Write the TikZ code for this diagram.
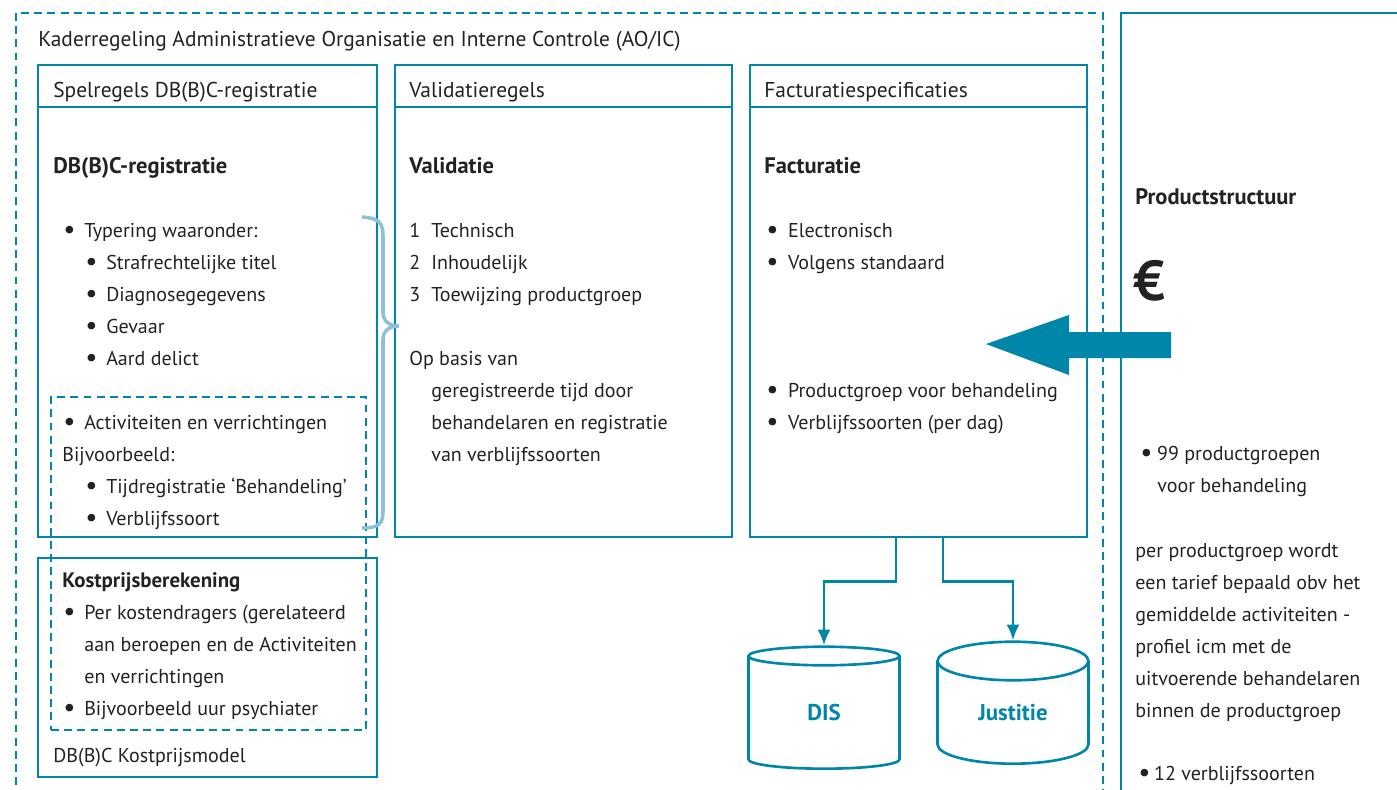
\documentclass[tikz,border=0pt]{standalone}
\usepackage{fontspec}
\setmainfont{PT Sans}
\usetikzlibrary{shapes.geometric,arrows.meta}

\definecolor{dbcblue}{RGB}{0,134,168}
\definecolor{dbclight}{RGB}{141,194,214}
\definecolor{ink}{RGB}{34,34,34}
\newcommand{\bul}[1][11.9pt]{\makebox[#1][l]{\raisebox{-1.1pt}{\scalebox{1.35}{•}}}}

\begin{document}
\begin{tikzpicture}[x=0.02cm, y=-0.02cm,
    txt/.style={anchor=base west, inner sep=0pt, text=ink, font=\fontsize{11.4}{14}\selectfont},
    kop/.style={txt, font=\fontsize{12.2}{14}\selectfont},
    hd/.style={txt, font=\fontsize{12.8}{15}\selectfont\bfseries},
    box/.style={draw=dbcblue, line width=1.6pt, inner sep=0pt},
    dbox/.style={box, line width=1.3pt, dash pattern=on 4.5pt off 3pt},
    link/.style={draw=dbcblue, line width=1.6pt, -{Latex[length=9pt,width=7.5pt]}},
    db/.style={cylinder, shape border rotate=90, aspect=0.556, draw=dbcblue, line width=1.5pt,
        minimum width=3.02cm, minimum height=2.44cm, inner sep=0pt, text height=9pt, text depth=0pt,
        text=dbcblue, font=\fontsize{13}{15}\selectfont\bfseries}]
    \useasboundingbox (0,0) rectangle (1397,789);
    \clip (0,0) rectangle (1397,789);

    %frames
    \draw[dbox] (16,13) rectangle (1103,830);
    \draw[box] (1121,830) |- (1440,13);
    \node[kop] (kader) at (38,46) {Kaderregeling Administratieve Organisatie en Interne Controle (AO/IC)};

    \node[box, minimum width=6.78cm, minimum height=9.44cm] (spel) at (207.5,301) {};
    \node[box, minimum width=6.74cm, minimum height=9.44cm] (valid) at (563.5,301) {};
    \node[box, minimum width=6.74cm, minimum height=9.44cm] (fac) at (918.5,301) {};
    \node[box, minimum width=6.78cm, minimum height=4.38cm] (kost) at (207.5,667.5) {};
    \node[dbox, minimum width=6.3cm, minimum height=6.66cm] (activ) at (208.5,563.5) {};
    \draw[box] (spel.west |- 0,107) -- (spel.east |- 0,107);
    \draw[box] (valid.west |- 0,107) -- (valid.east |- 0,107);
    \draw[box] (fac.west |- 0,107) -- (fac.east |- 0,107);

    %spelregels
    \node[kop] (spelh) at (53,97) {Spelregels DB(B)C-registratie};
    \node[hd] (regh) at (53,173) {DB(B)C-registratie};
    \node[txt] (typ) at (63,237) {\bul Typering waaronder:};
    \foreach \t [count=\i] in {Strafrechtelijke titel, Diagnosegegevens, Gevaar, Aard delict}
        \node[txt] (typ\i) at (85,{237+32*\i}) {\bul\t};
    \node[txt] (act) at (63,429) {\bul Activiteiten en verrichtingen};
    \node[txt] (bijv) at (62,461) {Bijvoorbeeld:};
    \node[txt] (bijv1) at (85,493) {\bul Tijdregistratie ‘Behandeling’};
    \node[txt] (bijv2) at (85,525) {\bul Verblijfssoort};

    %kostprijs
    \node[hd, font=\fontsize{11.9}{14}\selectfont\bfseries] (kosth) at (62,587) {Kostprijsberekening};
    \node[txt] (kost1) at (63,619) {\bul Per kostendragers (gerelateerd};
    \node[txt] (kost2) at (84,651) {aan beroepen en de Activiteiten};
    \node[txt] (kost3) at (84,683) {en verrichtingen};
    \node[txt] (kost4) at (63,715) {\bul Bijvoorbeeld uur psychiater};
    \node[txt] (kostm) at (53,762) {DB(B)C Kostprijsmodel};

    %validatie
    \node[kop] (validh) at (409,97) {Validatieregels};
    \node[hd] (vh) at (409,173) {Validatie};
    \foreach \t [count=\i] in {Technisch, Inhoudelijk, Toewijzing productgroep}
        \node[txt] (stap\i) at (409,{205+32*\i}) {\makebox[12.5pt][l]{\i}\t};
    \node[txt] (basis) at (409,365) {Op basis van};
    \foreach \t [count=\i] in {geregistreerde tijd door, behandelaren en registratie, van verblijfssoorten}
        \node[txt] (basis\i) at (431,{365+32*\i}) {\t};

    %facturatie
    \node[kop] (fach) at (764,97) {Facturatiespecificaties};
    \node[hd] (fh) at (764,173) {Facturatie};
    \node[txt] (fac1) at (766,237) {\bul[12.4pt]Electronisch};
    \node[txt] (fac2) at (766,269) {\bul[12.4pt]Volgens standaard};
    \node[txt] (fac3) at (766,397) {\bul[12.4pt]Productgroep voor behandeling};
    \node[txt] (fac4) at (766,429) {\bul[12.4pt]Verblijfssoorten (per dag)};

    %brace
    \draw[dbclight, line width=2pt] (362,217) .. controls (378,218) and (383,222) .. (383,236)
        -- (383,312) .. controls (383,322) and (390,326) .. (399,326)
        .. controls (390,326) and (383,330) .. (383,340)
        -- (383,512) .. controls (383,524) and (378,528) .. (362,528);

    %databases
    \node[db] (dis) at (824,713) {DIS};
    \node[db] (just) at (1013,713) {Justitie};
    \draw[link] ([xshift=-0.45cm]fac.south) -- ++(0,43) -| (dis.north);
    \draw[link] ([xshift=0.49cm]fac.south) -- ++(0,43) -| (just.north);

    %productstructuur
    \fill[dbcblue] (1171,332) -- (1069,332) -- (1069,315) -- (986,344) -- (1069,375) -- (1069,358) -- (1171,358) -- cycle;
    \node[hd] (prod) at (1135,204) {Productstructuur};
    \node[hd, font=\fontsize{32}{36}\selectfont\bfseries] (euro) at (1133,300) {€};
    \node[txt] (pg) at (1140,460) {\bul[9.6pt]99 productgroepen};
    \node[txt] (pg2) at (1157,492) {voor behandeling};
    \foreach \t [count=\i] in {per productgroep wordt, een tarief bepaald obv het, gemiddelde activiteiten -,
        profiel icm met de, uitvoerende behandelaren, binnen de productgroep}
        \node[txt] (tarief\i) at (1135,{525+32*\i}) {\t};
    \node[txt] (verbl) at (1138,780) {\bul[9pt]12 verblijfssoorten};
\end{tikzpicture}
\end{document}
